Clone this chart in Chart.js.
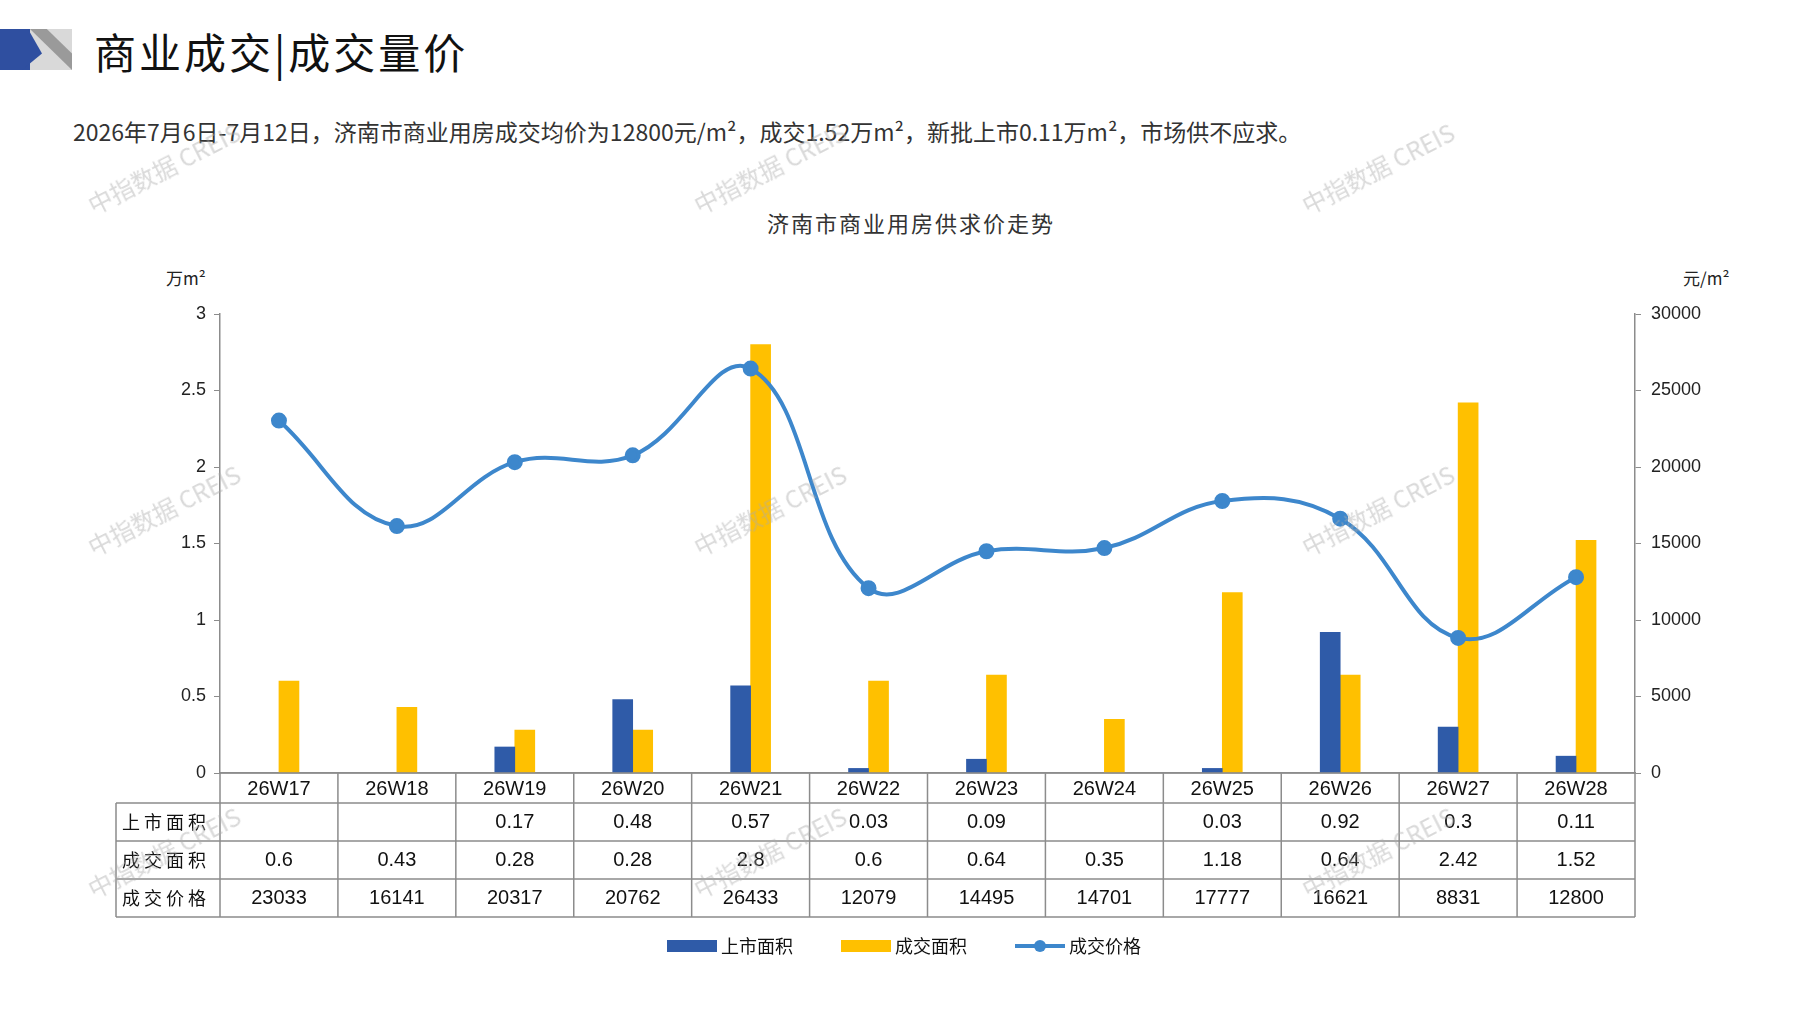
<!DOCTYPE html>
<html><head><meta charset="utf-8">
<script src="https://cdn.jsdelivr.net/npm/chart.js@4"></script>
<style>
body{margin:0;width:1797px;height:1010px;background:#fff;position:relative;overflow:hidden;font-family:"Noto Sans CJK SC",sans-serif}
#c{position:absolute;left:0;top:0}
.t{position:absolute;white-space:nowrap;color:#222}
.wm{position:absolute;color:rgba(170,170,170,0.45);font-size:24px;transform:rotate(-27deg);white-space:nowrap;font-family:"Noto Sans CJK SC",sans-serif}
</style></head><body>
<div style="position:absolute;left:0;top:29px;width:72px;height:41px;background:#d9d9d9"></div>
<div style="position:absolute;left:0;top:29px;width:30px;height:41px;background:#2f4fa0"></div>
<div style="position:absolute;left:30px;top:29px;width:42px;height:41px;background:#9a9a9a;clip-path:polygon(0 0,40% 0,100% 60%,100% 100%)"></div>
<div style="position:absolute;left:22px;top:29px;width:20px;height:41px;background:#2f4fa0;clip-path:polygon(0 0,30% 0,100% 60%,0 100%)"></div>
<div class="t" style="left:94px;top:20px;font-size:42px;letter-spacing:3px;color:#111">商业成交|成交量价</div>
<div class="t" style="left:73px;top:114px;font-size:23px;color:#333">2026年7月6日-7月12日，济南市商业用房成交均价为12800元/m²，成交1.52万m²，新批上市0.11万m²，市场供不应求。</div>
<div class="t" style="left:911px;top:206px;font-size:22px;letter-spacing:2px;color:#333;transform:translateX(-50%)">济南市商业用房供求价走势</div>
<div class="t" style="left:166px;top:265px;font-size:17px">万m²</div>
<div class="t" style="left:1683px;top:265px;font-size:17px">元/m²</div>
<canvas id="c" width="1797" height="1010"></canvas>
<div id="wms"></div>
<script>
const weeks=['26W17','26W18','26W19','26W20','26W21','26W22','26W23','26W24','26W25','26W26','26W27','26W28'];
const supply=[null,null,0.17,0.48,0.57,0.03,0.09,null,0.03,0.92,0.3,0.11];
const deal=[0.6,0.43,0.28,0.28,2.8,0.6,0.64,0.35,1.18,0.64,2.42,1.52];
const price=[23033,16141,20317,20762,26433,12079,14495,14701,17777,16621,8831,12800];
const names=['上市面积','成交面积','成交价格'];
const C_BLUE='#2f5ba8',C_YEL='#ffc000',C_LINE='#3d87cc';

const wm=document.getElementById('wms');
[[80,150],[686,150],[1294,150],[80,492],[686,492],[1294,492],[80,834],[686,834],[1294,834]].forEach(p=>{
 const d=document.createElement('div');d.className='wm';d.textContent='中指数据 CREIS';d.style.left=p[0]+'px';d.style.top=p[1]+'px';wm.appendChild(d);});

const fmt=v=>v==null?'':String(v);
const tablePlugin={id:'tbl',afterDraw(ch){
 const ctx=ch.ctx,x=ch.scales.x,L=116,A=ch.chartArea.left,R=ch.chartArea.right;
 const b=ch.chartArea.bottom;
 const rows=[b,b+30,b+68,b+106,b+144];
 ctx.save();ctx.strokeStyle='#8c8c8c';ctx.lineWidth=1.5;
 ctx.beginPath();
 ctx.moveTo(A,rows[0]);ctx.lineTo(R,rows[0]);
 for(let i=1;i<rows.length;i++){ctx.moveTo(L,rows[i]);ctx.lineTo(R,rows[i]);}
 ctx.moveTo(L,rows[1]);ctx.lineTo(L,rows[4]);
 const cw=(R-A)/weeks.length;
 for(let i=0;i<=weeks.length;i++){const xx=A+i*cw;ctx.moveTo(xx,rows[0]);ctx.lineTo(xx,rows[4]);}
 ctx.stroke();
 ctx.fillStyle='#111';ctx.textAlign='center';ctx.textBaseline='middle';
 ctx.font='20px "Liberation Sans Narrow","Liberation Sans",sans-serif';
 weeks.forEach((w,i)=>{const cx=x.getPixelForValue(i);
  ctx.fillText(w,cx,(rows[0]+rows[1])/2+1);
  ctx.fillText(fmt(supply[i]),cx,(rows[1]+rows[2])/2);
  ctx.fillText(fmt(deal[i]),cx,(rows[2]+rows[3])/2);
  ctx.fillText(fmt(price[i]),cx,(rows[3]+rows[4])/2);});
 ctx.font='18px "Noto Sans CJK SC"';ctx.textAlign='left';
 names.forEach((n,i)=>ctx.fillText(n.split('').join(' '),L+6,(rows[i+1]+rows[i+2])/2));
 const ly=946;
 ctx.fillStyle=C_BLUE;ctx.fillRect(667,ly-6,50,12);ctx.fillStyle='#111';ctx.fillText(names[0],721,ly);
 ctx.fillStyle=C_YEL;ctx.fillRect(841,ly-6,50,12);ctx.fillStyle='#111';ctx.fillText(names[1],895,ly);
 ctx.strokeStyle=C_LINE;ctx.lineWidth=4;ctx.beginPath();ctx.moveTo(1015,ly);ctx.lineTo(1065,ly);ctx.stroke();
 ctx.fillStyle=C_LINE;ctx.beginPath();ctx.arc(1040,ly,6,0,Math.PI*2);ctx.fill();
 ctx.fillStyle='#111';ctx.fillText(names[2],1069,ly);
 ctx.restore();}};

const tf={size:18,family:'"Liberation Sans Narrow","Liberation Sans"'};
new Chart(document.getElementById('c'),{
 data:{labels:weeks,datasets:[
  {type:'line',label:names[2],data:price,yAxisID:'y1',borderColor:C_LINE,backgroundColor:C_LINE,borderWidth:4,tension:0.4,pointRadius:6,pointBackgroundColor:C_LINE,order:0},
  {type:'bar',label:names[0],data:supply,yAxisID:'y',backgroundColor:C_BLUE,barThickness:20,categoryPercentage:0.57,order:1},
  {type:'bar',label:names[1],data:deal,yAxisID:'y',backgroundColor:C_YEL,barThickness:20,categoryPercentage:0.57,order:1}]},
 options:{responsive:false,animation:false,
  layout:{padding:{left:150,right:92,top:314,bottom:237}},
  plugins:{legend:{display:false},tooltip:{enabled:false}},
  scales:{
   x:{ticks:{display:false},grid:{display:false},border:{display:true,color:'#8c8c8c',width:1.5},afterFit:s=>{s.height=0}},
   y:{position:'left',min:0,max:3,ticks:{stepSize:0.5,color:'#222',font:tf,padding:8,callback:v=>String(v)},
      grid:{drawOnChartArea:false,tickLength:6,color:'#8c8c8c'},border:{color:'#8c8c8c',width:1.5},afterFit:s=>{s.width=70}},
   y1:{position:'right',min:0,max:30000,ticks:{stepSize:5000,color:'#222',font:tf,padding:10,callback:v=>String(v)},
      grid:{drawOnChartArea:false,tickLength:6,color:'#8c8c8c'},border:{color:'#8c8c8c',width:1.5},afterFit:s=>{s.width=70}}
  }},
 plugins:[tablePlugin]});
</script></body></html>
